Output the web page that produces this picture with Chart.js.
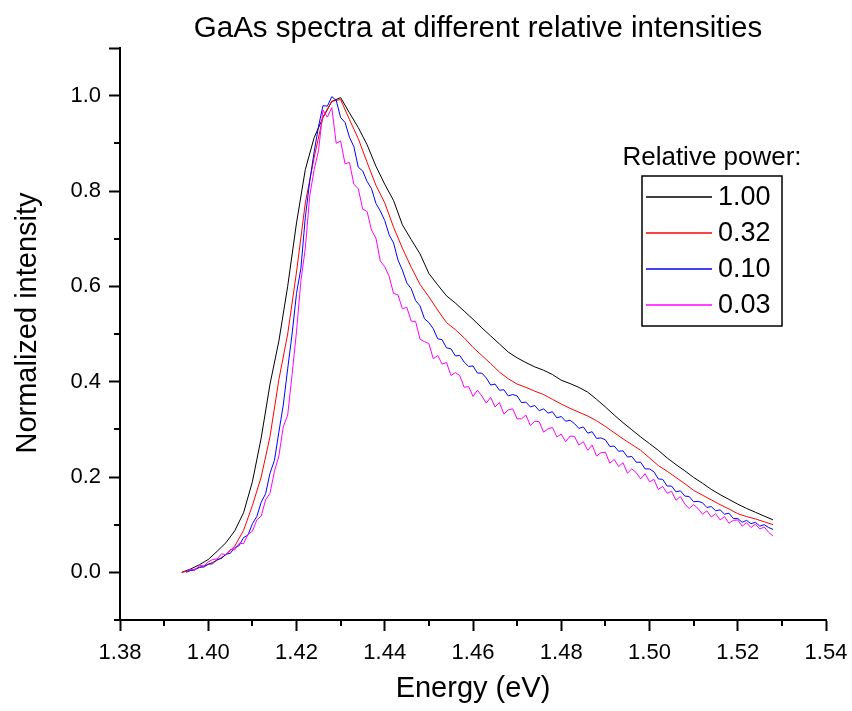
<!DOCTYPE html>
<html>
<head>
<meta charset="utf-8">
<script src="https://cdn.jsdelivr.net/npm/chart.js@4.4.1/dist/chart.umd.min.js"></script>
<style>
  html, body { margin: 0; padding: 0; background: #fff; }
</style>
</head>
<body>
<canvas id="myChart" width="852" height="711"></canvas>
<script>
const chartTitle = "GaAs spectra at different relative intensities";
const xTitle = "Energy (eV)";
const yTitle = "Normalized intensity";
const legendTitle = "Relative power:";
const seriesLabels = ["1.00", "0.32", "0.10", "0.03"];
const seriesColors = ["#000000", "#ff0000", "#0000ff", "#ff00ff"];

// energy (eV), coarse grid for the two strong spectra
const energyCoarse = [
  1.394, 1.396, 1.398, 1.400, 1.402, 1.404, 1.406, 1.408, 1.410, 1.412,
  1.414, 1.416, 1.418, 1.420, 1.422, 1.424, 1.426, 1.428, 1.430, 1.432,
  1.434, 1.436, 1.438, 1.440, 1.442, 1.444, 1.446, 1.448, 1.450, 1.452,
  1.454, 1.456, 1.458, 1.460, 1.462, 1.464, 1.466, 1.468, 1.470, 1.472,
  1.474, 1.476, 1.478, 1.480, 1.482, 1.484, 1.486, 1.488, 1.490, 1.492,
  1.494, 1.496, 1.498, 1.500, 1.502, 1.504, 1.506, 1.508, 1.510, 1.512,
  1.514, 1.516, 1.518, 1.520, 1.522, 1.524, 1.526, 1.528
];

// energy (eV), fine grid for the two noisy spectra
const energyFine = [
  1.395, 1.396, 1.397, 1.398, 1.399, 1.400, 1.401, 1.402, 1.403, 1.404,
  1.405, 1.406, 1.407, 1.408, 1.409, 1.410, 1.411, 1.412, 1.413, 1.414,
  1.415, 1.416, 1.417, 1.418, 1.419, 1.420, 1.421, 1.422, 1.423, 1.424,
  1.425, 1.426, 1.427, 1.428, 1.429, 1.430, 1.431, 1.432, 1.433, 1.434,
  1.435, 1.436, 1.437, 1.438, 1.439, 1.440, 1.441, 1.442, 1.443, 1.444,
  1.445, 1.446, 1.447, 1.448, 1.449, 1.450, 1.451, 1.452, 1.453, 1.454,
  1.455, 1.456, 1.457, 1.458, 1.459, 1.460, 1.461, 1.462, 1.463, 1.464,
  1.465, 1.466, 1.467, 1.468, 1.469, 1.470, 1.471, 1.472, 1.473, 1.474,
  1.475, 1.476, 1.477, 1.478, 1.479, 1.480, 1.481, 1.482, 1.483, 1.484,
  1.485, 1.486, 1.487, 1.488, 1.489, 1.490, 1.491, 1.492, 1.493, 1.494,
  1.495, 1.496, 1.497, 1.498, 1.499, 1.500, 1.501, 1.502, 1.503, 1.504,
  1.505, 1.506, 1.507, 1.508, 1.509, 1.510, 1.511, 1.512, 1.513, 1.514,
  1.515, 1.516, 1.517, 1.518, 1.519, 1.520, 1.521, 1.522, 1.523, 1.524,
  1.525, 1.526, 1.527, 1.528
];

// relative power 1.00
const intensity100 = [
  0.000, 0.007, 0.016, 0.027, 0.044, 0.062, 0.087, 0.125, 0.190, 0.282,
  0.395, 0.485, 0.600, 0.733, 0.845, 0.912, 0.954, 0.988, 0.996, 0.964,
  0.933, 0.897, 0.852, 0.814, 0.780, 0.729, 0.698, 0.668, 0.627, 0.603,
  0.580, 0.565, 0.548, 0.531, 0.513, 0.496, 0.479, 0.462, 0.450, 0.440,
  0.431, 0.424, 0.415, 0.403, 0.396, 0.388, 0.378, 0.363, 0.347, 0.330,
  0.314, 0.299, 0.284, 0.270, 0.256, 0.240, 0.226, 0.213, 0.199, 0.187,
  0.174, 0.163, 0.153, 0.143, 0.134, 0.126, 0.118, 0.110
];

// relative power 0.32
const intensity032 = [
  0.000, 0.004, 0.010, 0.017, 0.025, 0.037, 0.055, 0.088, 0.140, 0.200,
  0.285, 0.404, 0.500, 0.630, 0.775, 0.870, 0.955, 0.988, 0.992, 0.950,
  0.910, 0.860, 0.812, 0.775, 0.724, 0.680, 0.640, 0.604, 0.578, 0.550,
  0.524, 0.509, 0.492, 0.472, 0.455, 0.438, 0.420, 0.406, 0.395, 0.388,
  0.380, 0.373, 0.363, 0.353, 0.344, 0.336, 0.328, 0.318, 0.306, 0.293,
  0.280, 0.268, 0.256, 0.240, 0.224, 0.212, 0.199, 0.186, 0.172, 0.162,
  0.152, 0.142, 0.133, 0.123, 0.117, 0.112, 0.106, 0.100
];

// relative power 0.10
const intensity010 = [
  0.000, 0.004, 0.005, 0.011, 0.011, 0.017, 0.018, 0.027, 0.029, 0.038,
  0.040, 0.052, 0.056, 0.073, 0.078, 0.102, 0.117, 0.147, 0.165, 0.208,
  0.235, 0.294, 0.351, 0.427, 0.500, 0.585, 0.638, 0.745, 0.821, 0.882,
  0.936, 0.979, 0.978, 0.998, 0.990, 0.954, 0.944, 0.913, 0.893, 0.850,
  0.842, 0.820, 0.805, 0.774, 0.758, 0.738, 0.708, 0.691, 0.655, 0.634,
  0.607, 0.595, 0.570, 0.559, 0.532, 0.524, 0.511, 0.490, 0.488, 0.471,
  0.469, 0.454, 0.455, 0.441, 0.432, 0.433, 0.418, 0.418, 0.408, 0.393,
  0.395, 0.382, 0.383, 0.370, 0.373, 0.370, 0.356, 0.357, 0.347, 0.350,
  0.339, 0.343, 0.334, 0.337, 0.324, 0.327, 0.317, 0.319, 0.312, 0.302,
  0.305, 0.292, 0.295, 0.281, 0.282, 0.278, 0.264, 0.265, 0.254, 0.255,
  0.242, 0.243, 0.231, 0.231, 0.217, 0.217, 0.211, 0.196, 0.195, 0.181,
  0.181, 0.169, 0.171, 0.160, 0.159, 0.148, 0.149, 0.146, 0.136, 0.138,
  0.129, 0.131, 0.122, 0.124, 0.113, 0.113, 0.105, 0.109, 0.102, 0.105,
  0.097, 0.100, 0.094, 0.090
];

// relative power 0.03
const intensity003 = [
  0.002, 0.006, 0.005, 0.015, 0.013, 0.022, 0.027, 0.028, 0.039, 0.037,
  0.048, 0.047, 0.061, 0.060, 0.080, 0.086, 0.110, 0.118, 0.152, 0.166,
  0.212, 0.244, 0.305, 0.330, 0.415, 0.505, 0.612, 0.680, 0.790, 0.845,
  0.885, 0.970, 0.955, 0.975, 0.900, 0.905, 0.857, 0.860, 0.814, 0.805,
  0.762, 0.757, 0.718, 0.701, 0.653, 0.641, 0.621, 0.585, 0.582, 0.553,
  0.556, 0.527, 0.526, 0.489, 0.484, 0.480, 0.448, 0.455, 0.437, 0.440,
  0.413, 0.419, 0.413, 0.388, 0.390, 0.369, 0.382, 0.370, 0.355, 0.367,
  0.347, 0.356, 0.332, 0.341, 0.343, 0.322, 0.322, 0.330, 0.308, 0.317,
  0.316, 0.294, 0.301, 0.304, 0.284, 0.290, 0.274, 0.286, 0.285, 0.267,
  0.274, 0.256, 0.267, 0.244, 0.251, 0.252, 0.229, 0.237, 0.222, 0.230,
  0.208, 0.217, 0.209, 0.196, 0.207, 0.190, 0.195, 0.174, 0.180, 0.166,
  0.170, 0.151, 0.159, 0.143, 0.134, 0.142, 0.134, 0.122, 0.129, 0.116,
  0.123, 0.110, 0.117, 0.103, 0.109, 0.110, 0.097, 0.104, 0.094, 0.101,
  0.091, 0.095, 0.084, 0.076
];

const fontFamily = "'Liberation Sans', Arial, sans-serif";
Chart.defaults.font.family = fontFamily;
Chart.defaults.color = "#000";

function toPoints(xs, ys) {
  return xs.map((x, i) => ({ x: x, y: ys[i] }));
}

// chart title and y axis title, placed like the original
const titles = {
  id: "titles",
  afterDraw(chart) {
    const ctx = chart.ctx;
    ctx.save();
    ctx.fillStyle = "#000";
    ctx.font = "29.5px " + fontFamily;
    ctx.textAlign = "center";
    ctx.textBaseline = "alphabetic";
    ctx.fillText(chartTitle, 478, 37);

    ctx.font = "29px " + fontFamily;
    ctx.translate(28, 323);
    ctx.rotate(-Math.PI / 2);
    ctx.textBaseline = "middle";
    ctx.fillText(yTitle, 0, 0);
    ctx.restore();
  },
};

// short (minor) ticks between the labelled ones
const minorTicks = {
  id: "minorTicks",
  afterDraw(chart) {
    const ctx = chart.ctx;
    const xs = chart.scales.x;
    const ys = chart.scales.y;
    ctx.save();
    ctx.strokeStyle = "#000";
    ctx.lineWidth = 2;
    ctx.beginPath();
    xs.ticks.forEach((t, i) => {
      if (i % 2 === 1) {
        const px = Math.round(xs.getPixelForValue(t.value));
        ctx.moveTo(px, xs.top);
        ctx.lineTo(px, xs.top + 6);
      }
    });
    ys.ticks.forEach((t, i) => {
      if (i % 2 === 0 && i !== ys.ticks.length - 1) {
        const py = Math.round(ys.getPixelForValue(t.value));
        ctx.moveTo(ys.right, py);
        ctx.lineTo(ys.right - 6, py);
      }
    });
    ctx.stroke();
    ctx.restore();
  },
};

// framed legend with its title above the box
const boxLegend = {
  id: "boxLegend",
  afterDraw(chart) {
    const ctx = chart.ctx;
    const area = chart.chartArea;
    const left = area.right - 184;
    const top = area.top + 128;
    const w = 140;
    const h = 150;
    ctx.save();
    ctx.fillStyle = "#000";
    ctx.font = "26px " + fontFamily;
    ctx.textAlign = "center";
    ctx.textBaseline = "alphabetic";
    ctx.fillText(legendTitle, left + w / 2, top - 11);

    ctx.strokeStyle = "#000";
    ctx.lineWidth = 1.5;
    ctx.strokeRect(left, top, w, h);

    chart.data.datasets.forEach((ds, i) => {
      const y = top + 21 + i * 36;
      ctx.strokeStyle = ds.borderColor;
      ctx.lineWidth = 1.5;
      ctx.beginPath();
      ctx.moveTo(left + 4, y);
      ctx.lineTo(left + 70, y);
      ctx.stroke();
      ctx.fillStyle = "#000";
      ctx.font = "27px " + fontFamily;
      ctx.textAlign = "left";
      ctx.textBaseline = "middle";
      ctx.fillText(ds.label, left + 76, y + 1);
    });
    ctx.restore();
  },
};

var ctx = document.getElementById("myChart").getContext("2d");

var myChart = new Chart(ctx, {
  type: "line",
  data: {
    datasets: [
      { label: seriesLabels[0], data: toPoints(energyCoarse, intensity100), borderColor: seriesColors[0], order: 3 },
      { label: seriesLabels[1], data: toPoints(energyCoarse, intensity032), borderColor: seriesColors[1], order: 2 },
      { label: seriesLabels[2], data: toPoints(energyFine, intensity010), borderColor: seriesColors[2], order: 1 },
      { label: seriesLabels[3], data: toPoints(energyFine, intensity003), borderColor: seriesColors[3], order: 0 },
    ],
  },
  options: {
    responsive: false,
    animation: false,
    layout: { padding: { left: 0, right: 26, top: 48, bottom: 0 } },
    elements: {
      point: { radius: 0 },
      line: { borderWidth: 1, tension: 0, fill: false },
    },
    plugins: {
      legend: { display: false },
      tooltip: { enabled: false },
      title: { display: false },
    },
    scales: {
      x: {
        type: "linear",
        min: 1.38,
        max: 1.54,
        border: { color: "#000", width: 2 },
        grid: {
          drawOnChartArea: false,
          tickLength: 11,
          tickWidth: 2,
          tickColor: (c) => (c.index % 2 === 0 ? "#000" : "rgba(0,0,0,0)"),
        },
        ticks: {
          stepSize: 0.01,
          autoSkip: false,
          maxRotation: 0,
          padding: 9,
          color: "#000",
          font: { size: 22 },
          callback: (v, i) => (i % 2 === 0 ? Number(v).toFixed(2) : ""),
        },
        title: {
          display: true,
          text: xTitle,
          color: "#000",
          font: { size: 29 },
          padding: { top: 6, bottom: 5 },
        },
        afterFit: (s) => {
          s.height = 91;
          s.paddingLeft = 0;
          s.paddingRight = 0;
        },
      },
      y: {
        min: -0.1,
        max: 1.1,
        border: { color: "#000", width: 2 },
        grid: {
          drawOnChartArea: false,
          tickLength: 11,
          tickWidth: 2,
          tickColor: (c) => (c.index % 2 === 1 || c.index === 12 ? "#000" : "rgba(0,0,0,0)"),
        },
        ticks: {
          stepSize: 0.1,
          autoSkip: false,
          padding: 8,
          color: "#000",
          font: { size: 22 },
          callback: (v, i) => {
            if (i % 2 === 0) return "";
            return Math.abs(v) < 1e-9 ? "0.0" : Number(v).toFixed(1);
          },
        },
        title: { display: false },
        afterFit: (s) => {
          s.width = 120;
          s.paddingTop = 0;
          s.paddingBottom = 0;
        },
      },
    },
  },
  plugins: [titles, minorTicks, boxLegend],
});
</script>
</body>
</html>
